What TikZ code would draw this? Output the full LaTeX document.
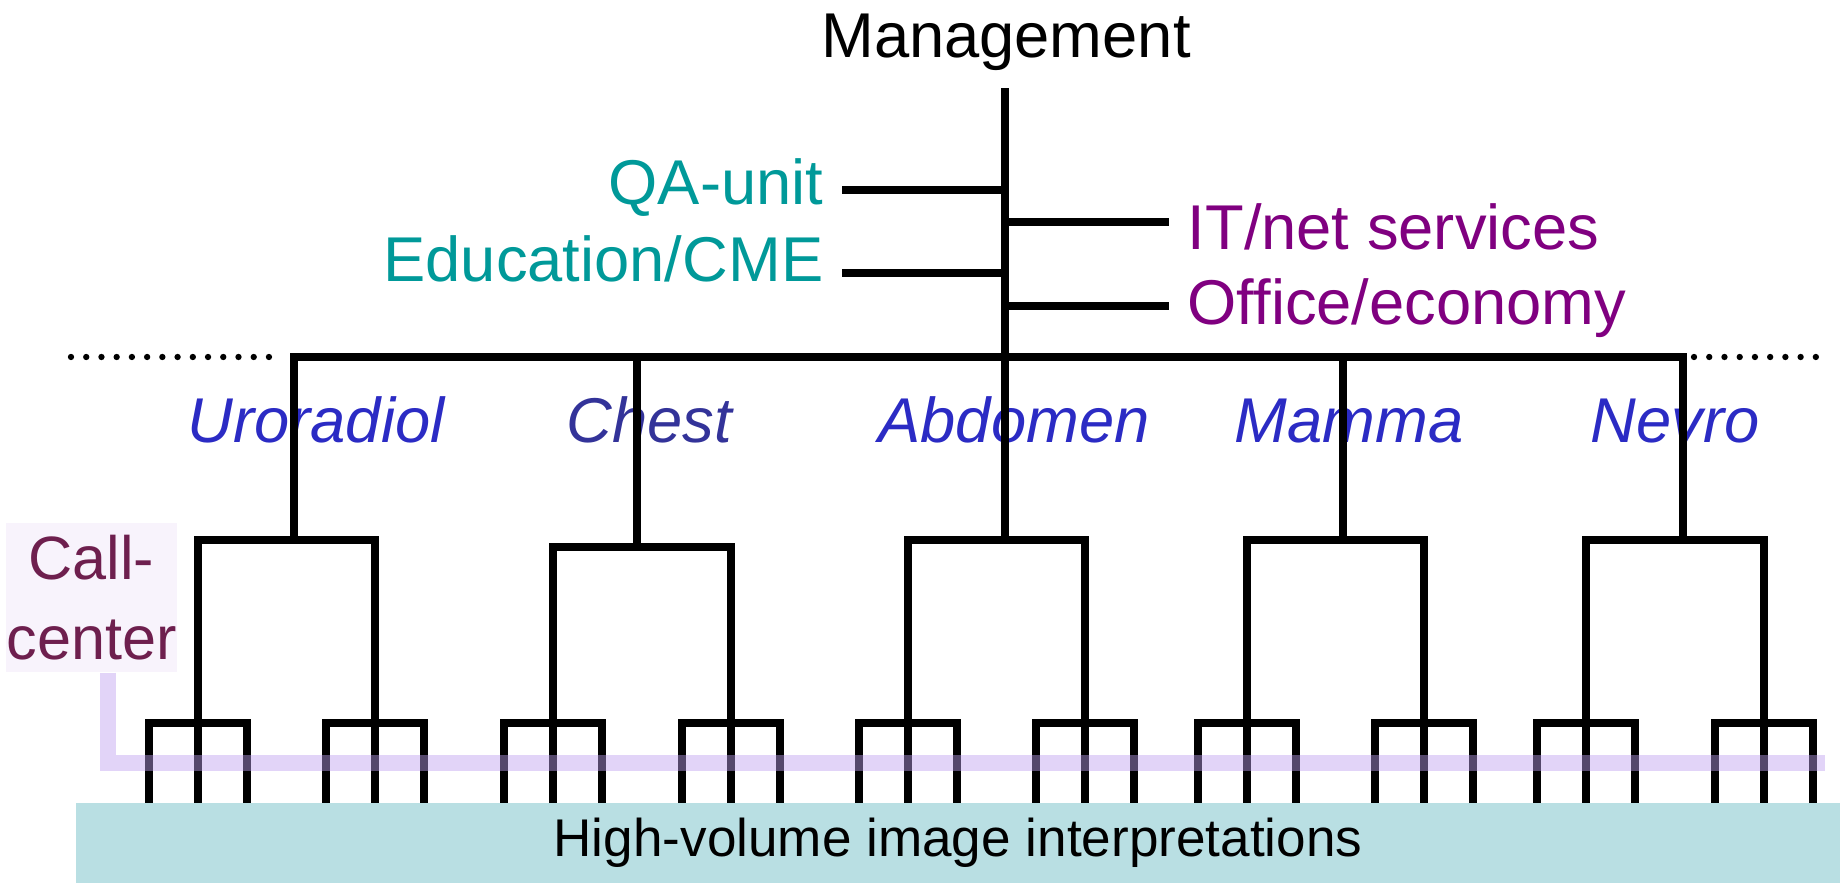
\documentclass[tikz,border=0pt]{standalone}
\usepackage{fontspec}
\setmainfont{Liberation Sans}
\usetikzlibrary{positioning}

\definecolor{qateal}{HTML}{009999}
\definecolor{itpurple}{HTML}{800080}
\definecolor{deptblue}{HTML}{2B2BC4}
\definecolor{chestblue}{HTML}{333399}
\definecolor{callred}{HTML}{6E1F4E}
\definecolor{callbg}{HTML}{F8F3FC}
\definecolor{calline}{HTML}{BEA0F0}
\definecolor{hvfill}{HTML}{B9DFE3}

\newcommand\bigtxt{\fontsize{18pt}{21pt}\selectfont}
\newcommand\calltxt{\fontsize{17.4pt}{22.8pt}\selectfont}
\newcommand\hvtxt{\fontsize{15.1pt}{18pt}\selectfont}

\begin{document}
\begin{tikzpicture}[
        x=0.01cm, y=-0.01cm,
        tree/.style={draw, line width=2.2pt, line cap=rect},
        dots/.style={draw, line width=1.8pt, line cap=round, dash pattern=on 0pt off 4.33pt},
        staff/.style={font=\bigtxt, inner xsep=0.22cm, inner ysep=0pt},
        dept/.style={font=\bigtxt\itshape, anchor=base, inner sep=0pt},
        callbox/.style={fill=callbg, text=callred, align=center, font=\calltxt, minimum width=1.43cm, minimum height=1.49cm, inner sep=0pt},
        callline/.style={draw=calline, opacity=0.45, line width=4.3pt},
        hvbox/.style={fill=hvfill, minimum width=17.62cm, minimum height=0.8cm, inner sep=0pt, font=\hvtxt}
    ]
    \useasboundingbox (0,0) rectangle (1846,883);

    % Leitung und Stab
    \node[font=\bigtxt, anchor=base] (mgmt) at (1006,58) {Management};
    \coordinate (trunk) at (1005,92);

    \node[staff, text=qateal, anchor=base east] (qa) at (846,205) {QA-unit};
    \node[staff, text=qateal, anchor=base east] (edu) at (846,282) {Education/CME};
    \node[staff, text=itpurple, anchor=base west] (it) at (1165,250) {IT/net services};
    \node[staff, text=itpurple, anchor=base west] (office) at (1165,325) {Office/economy};

    \coordinate (qa-j) at (1005,190);
    \coordinate (it-j) at (1005,222);
    \coordinate (edu-j) at (1005,273);
    \coordinate (office-j) at (1005,306);

    % Sektionen
    \foreach \nm/\cx/\txt/\col in {uro/316/Uroradiol/deptblue, chest/649/Chest/chestblue, abd/1014/Abdomen/deptblue, mam/1349/Mamma/deptblue, nev/1675/Nevro/deptblue}
        \node[dept, text=\col] (\nm-lbl) at (\cx,443) {\txt};

    % Baum
    \foreach \nm/\bx/\lx/\rx/\ly in {uro/294/198/375/540, chest/637/553/731/547, abd/1005/908/1085/540, mam/1343/1247/1424/540, nev/1683/1586/1764/540} {
        \coordinate (\nm-top) at (\bx,357);
        \coordinate (\nm-mid) at (\bx,\ly);
        \coordinate (\nm-a) at (\lx,\ly);
        \coordinate (\nm-b) at (\rx,\ly);
        \draw[tree] (\nm-top) -- (\nm-mid);
        \draw[tree] (\nm-a) -- (\nm-b);
        \foreach \s in {a,b} {
            \coordinate (\nm-\s-leaf) at (\nm-\s |- 0,723);
            \draw[tree] (\nm-\s) -- (\nm-\s |- 0,815);
            \draw[tree] ([shift={(-49,92)}]\nm-\s-leaf) |- ([shift={(49,0)}]\nm-\s-leaf) -- ++(0,92);
        }
    }

    \coordinate (dotL) at (71,357);
    \coordinate (dotR) at (1820,357);
    \draw[tree] (uro-top) -- (nev-top);
    \draw[dots] (dotL) -- ([xshift=-0.11cm]uro-top);
    \draw[dots] ([xshift=0.11cm]nev-top) -- (dotR);

    \draw[tree] (trunk) -- (abd-top);
    \draw[tree] (qa-j) -- (qa-j -| qa.east);
    \draw[tree] (edu-j) -- (edu-j -| edu.east);
    \draw[tree] (it-j) -- (it-j -| it.west);
    \draw[tree] (office-j) -- (office-j -| office.west);

    % Call-center
    \node[callbox] (callc) at (91.5,597.5) {Call-\\center};
    \coordinate (cc-bend) at (108,763);
    \coordinate (cc-end) at (1825,763);
    \draw[callline] (callc.south -| cc-bend) -- (cc-bend) -- (cc-end);

    % Basis
    \node[hvbox] (hv) at (958,843) {High-volume image interpretations};

\end{tikzpicture}
\end{document}
